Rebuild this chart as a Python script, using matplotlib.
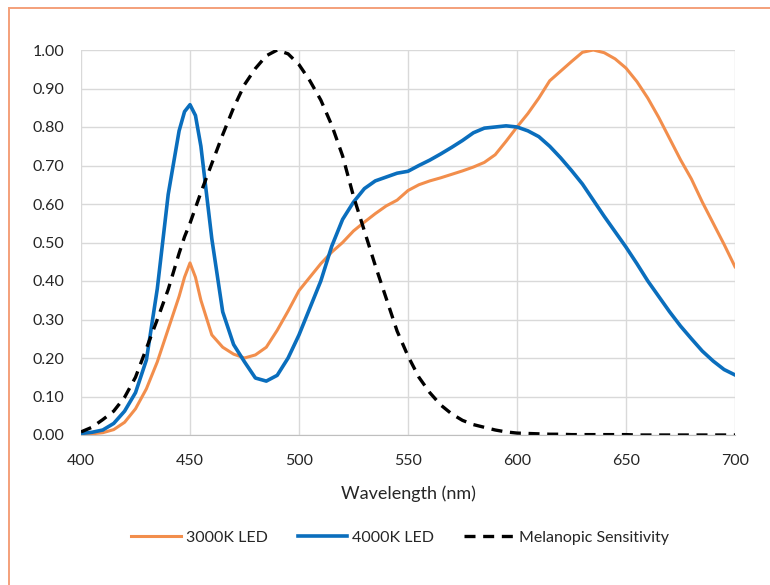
import matplotlib
matplotlib.use("Agg")
import matplotlib.pyplot as plt
from matplotlib.patches import Rectangle

plt.rcParams.update({"font.family": ["Lato", "DejaVu Sans"], "font.size": 11})

ORANGE = "#F28E4C"
BLUE = "#0A6EBD"
BORDER = "#F4A07A"
GRID = "#D9D9D9"

wavelength = [400, 405, 410, 415, 420, 425, 430, 435, 440, 445, 447.5, 450, 452.5,
              455, 460, 465, 470, 475, 480, 485, 490, 495, 500, 505, 510, 515, 520,
              525, 530, 535, 540, 545, 550, 555, 560, 565, 570, 575, 580, 585, 590,
              595, 600, 605, 610, 615, 620, 625, 630, 635, 640, 645, 650, 655, 660,
              665, 670, 675, 680, 685, 690, 695, 700]

led_3000k = [0.002, 0.003, 0.006, 0.014, 0.033, 0.068, 0.12, 0.19, 0.275, 0.36, 0.41,
             0.447, 0.41, 0.35, 0.26, 0.228, 0.21, 0.200, 0.208, 0.228, 0.272, 0.322,
             0.375, 0.41, 0.445, 0.475, 0.50, 0.53, 0.553, 0.575, 0.595, 0.61, 0.635,
             0.65, 0.66, 0.668, 0.677, 0.686, 0.696, 0.708, 0.728, 0.763, 0.80, 0.835,
             0.875, 0.92, 0.945, 0.97, 0.994, 1.0, 0.993, 0.977, 0.953, 0.918, 0.875,
             0.825, 0.77, 0.715, 0.665, 0.605, 0.55, 0.495, 0.437]

led_4000k = [0.004, 0.007, 0.013, 0.030, 0.062, 0.11, 0.195, 0.38, 0.625, 0.79, 0.84,
             0.858, 0.83, 0.75, 0.51, 0.32, 0.235, 0.19, 0.148, 0.14, 0.155, 0.20,
             0.26, 0.33, 0.40, 0.49, 0.56, 0.605, 0.64, 0.66, 0.67, 0.68, 0.685, 0.70,
             0.714, 0.73, 0.747, 0.765, 0.785, 0.797, 0.80, 0.803, 0.80, 0.79, 0.775,
             0.75, 0.72, 0.687, 0.652, 0.61, 0.568, 0.528, 0.488, 0.445, 0.40, 0.36,
             0.32, 0.283, 0.25, 0.218, 0.192, 0.17, 0.156]

melanopic = [0.008, 0.02, 0.04, 0.062, 0.098, 0.15, 0.225, 0.30, 0.378, 0.472, 0.515,
             0.55, 0.59, 0.63, 0.705, 0.78, 0.85, 0.91, 0.952, 0.985, 1.0, 0.99, 0.962,
             0.92, 0.87, 0.805, 0.725, 0.62, 0.53, 0.44, 0.355, 0.27, 0.205, 0.15,
             0.11, 0.078, 0.055, 0.038, 0.027, 0.02, 0.013, 0.008, 0.005, 0.004,
             0.003, 0.002, 0.002, 0.001, 0.001, 0.001, 0.001, 0.001, 0.001, 0.0, 0.0,
             0.0, 0.0, 0.0, 0.0, 0.0, 0.0, 0.0, 0.0]

x_ticks = [400, 450, 500, 550, 600, 650, 700]
y_ticks = [0.0, 0.1, 0.2, 0.3, 0.4, 0.5, 0.6, 0.7, 0.8, 0.9, 1.0]

fig = plt.figure(figsize=(7.7, 5.85), dpi=100)
ax = fig.add_axes([81 / 770, 1 - 435 / 585, 654 / 770, 385 / 585])

ax.plot(wavelength, led_3000k, color=ORANGE, lw=2.2, label="3000K LED")
ax.plot(wavelength, led_4000k, color=BLUE, lw=2.6, label="4000K LED")
ax.plot(wavelength, melanopic, color="black", lw=2.4, dashes=(3.3, 2.3),
        label="Melanopic Sensitivity")

ax.set_xlim(400, 700)
ax.set_ylim(0, 1.0)
ax.set_xticks(x_ticks)
ax.set_yticks(y_ticks)
ax.set_yticklabels([f"{v:.2f}" for v in y_ticks])
ax.grid(True, color=GRID, lw=1.0)
ax.set_axisbelow(True)
for side in ["top", "left", "right"]:
    ax.spines[side].set_visible(False)
ax.spines["bottom"].set_color("#BFBFBF")
ax.tick_params(axis="x", length=0, labelsize=11.5, colors="#262626", pad=14)
ax.tick_params(axis="y", length=0, labelsize=11.5, colors="#262626", pad=12)
ax.set_xlabel("Wavelength (nm)", fontsize=13, color="#262626", labelpad=12)
for t in ax.get_xticklabels() + ax.get_yticklabels():
    t.set_clip_on(False)

fig.legend(loc="center", bbox_to_anchor=(400 / 770, 1 - 538 / 585), ncol=3,
           frameon=False, fontsize=11.5, handlelength=3.1, columnspacing=1.9,
           handletextpad=0.3, labelcolor="#262626")

fig.patches.append(Rectangle((9 / 770, -0.1), 1.2, 1.1 - 8 / 585, transform=fig.transFigure,
                             fill=False, edgecolor=BORDER, lw=1.4))

fig.savefig("out.png", dpi=100, facecolor="white")
